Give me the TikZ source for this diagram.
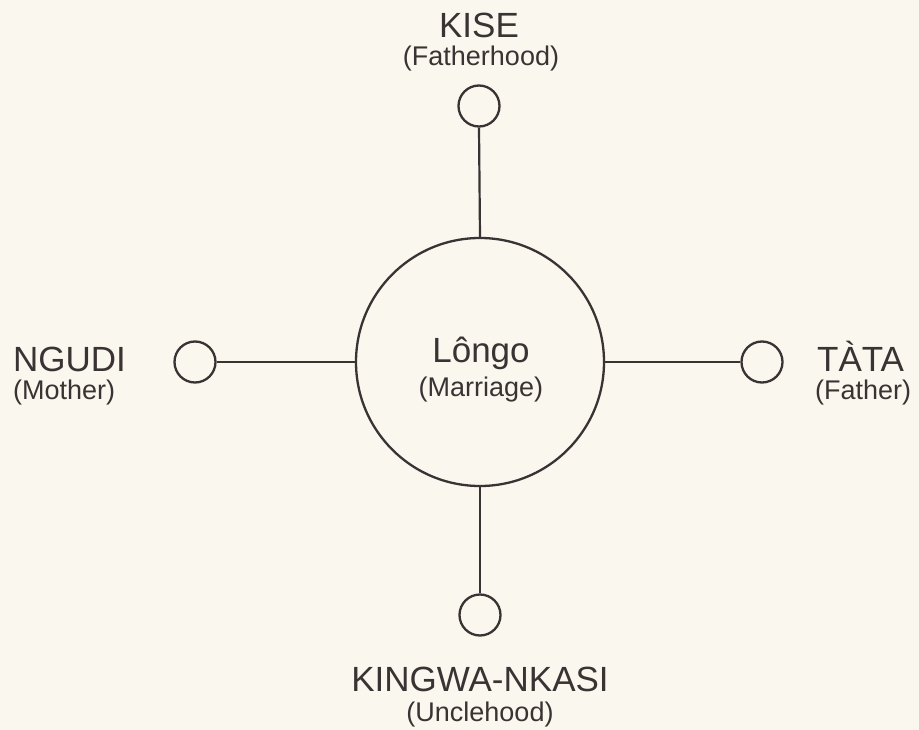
\documentclass[tikz,border=0pt]{standalone}
\usepackage{fontspec}
\setmainfont{Liberation Sans}
\definecolor{bg}{HTML}{FAF7EF}
\definecolor{ink}{HTML}{3A3333}
\begin{document}
\begin{tikzpicture}[x=1pt,y=-1pt,
  ring/.style={circle,draw=ink,line width=2.3pt,inner sep=0pt},
  smallring/.style={ring,minimum size=41pt},
  link/.style={draw=ink,line width=2.2pt},
  mainlbl/.style={text=ink,inner sep=0pt,font=\fontsize{35}{40}\selectfont},
  glosslbl/.style={text=ink,inner sep=0pt,font=\fontsize{27}{30}\selectfont}]
\fill[bg] (0,0) rectangle (919,730);
\useasboundingbox (0,0) rectangle (919,730);
% circles
\node[ring,minimum size=248pt] (longo) at (480,362) {};
\node[smallring] (top) at (479,106) {};
\node[smallring] (left) at (195,362) {};
\node[smallring] (right) at (762,362) {};
\node[smallring] (bottom) at (480,615) {};
% connectors
\draw[link] (top.south) -- (longo.north);
\draw[link] (bottom.north) -- (longo.south);
\draw[link] (left.east) -- (longo.west);
\draw[link] (right.west) -- (longo.east);
% labels
\node[mainlbl,anchor=base] (kise) at (479,38) {KISE};
\node[glosslbl,anchor=base] (kisesub) at (481,66) {(Fatherhood)};
\node[mainlbl,anchor=base] (lng) at (481,362) {Lôngo};
\node[glosslbl,anchor=base] (lngsub) at (481,396) {(Marriage)};
\node[mainlbl,anchor=base west] (ngudi) at (13,371) {NGUDI};
\node[glosslbl,anchor=base west] (ngudisub) at (13,399) {(Mother)};
\node[mainlbl,anchor=base west] (tata) at (817,371) {TÀTA};
\node[glosslbl,anchor=base west] (tatasub) at (815,399) {(Father)};
\node[mainlbl,anchor=base] (kingwa) at (480,691) {KINGWA-NKASI};
\node[glosslbl,anchor=base] (kingwasub) at (480,721) {(Unclehood)};
\end{tikzpicture}
\end{document}
